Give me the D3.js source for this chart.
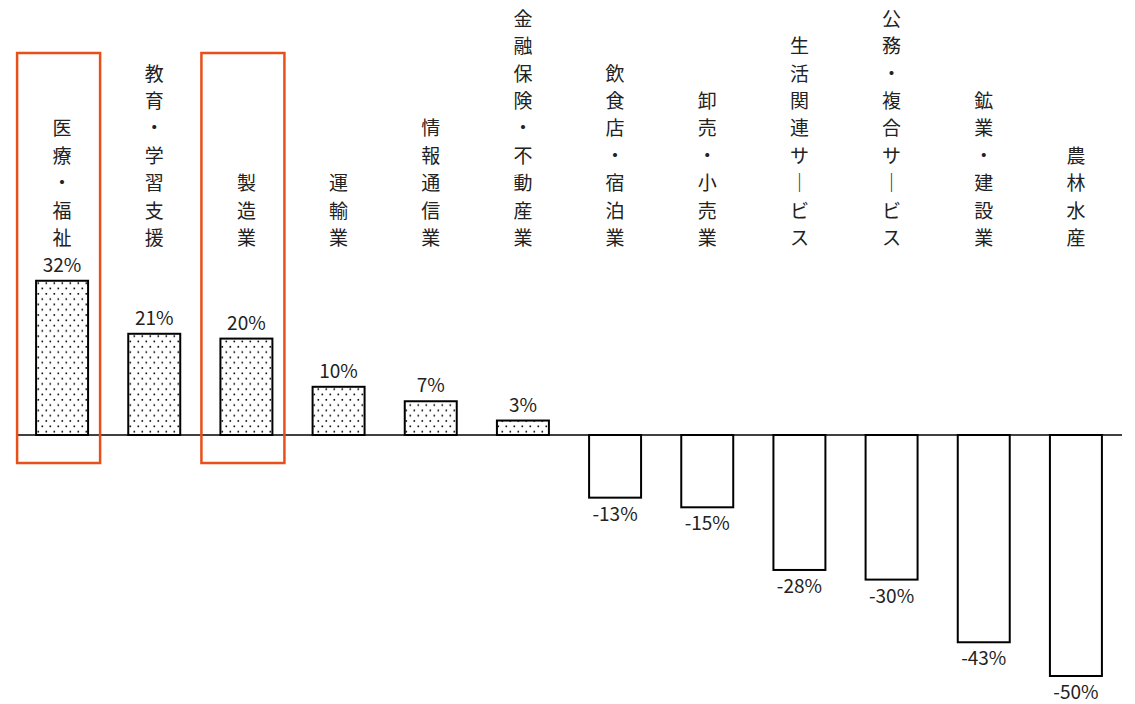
<!DOCTYPE html>
<html>
<head>
<meta charset="utf-8">
<script src="https://cdn.jsdelivr.net/npm/d3@7"></script>
<style>
  html, body { margin: 0; padding: 0; background: #fff; }
  svg { display: block; }
  text { font-family: "Noto Sans CJK JP", "Noto Sans", sans-serif; fill: #222; }
</style>
</head>
<body>
<svg id="chart" width="1135" height="704"></svg>
<script>
// Industries (vertical labels, one character per line)
const industries = [
  "医療・福祉", "教育・学習支援", "製造業", "運輸業", "情報通信業",
  "金融保険・不動産業", "飲食店・宿泊業", "卸売・小売業", "生活関連サービス",
  "公務・複合サービス", "鉱業・建設業", "農林水産"
];
// Change rate (%)
const changeRates = [32, 21, 20, 10, 7, 3, -13, -15, -28, -30, -43, -50];
// Highlighted industries
const highlighted = ["医療・福祉", "製造業"];

const svg = d3.select("#chart");

const x = d3.scaleBand()
  .domain(industries)
  .range([16, 1122])
  .paddingInner(0.436)
  .paddingOuter(0.218);

const y = d3.scaleLinear()
  .domain([0, 10])
  .range([435, 386.8]);

// Dotted fill for positive bars
const defs = svg.append("defs");
const pat = defs.append("pattern")
  .attr("id", "dots")
  .attr("patternUnits", "userSpaceOnUse")
  .attr("width", 8).attr("height", 10.6);
pat.append("rect").attr("width", 8).attr("height", 10.6).attr("fill", "#fff");
pat.append("rect").attr("x", 1.5).attr("y", 1.5).attr("width", 1.6).attr("height", 1.6).attr("fill", "#000");
pat.append("rect").attr("x", 5.5).attr("y", 6.8).attr("width", 1.6).attr("height", 1.6).attr("fill", "#000");

const data = industries.map((name, i) => ({ name, value: changeRates[i] }));

// Bars
svg.append("g").selectAll("rect")
  .data(data)
  .join("rect")
  .attr("x", d => x(d.name))
  .attr("width", x.bandwidth())
  .attr("y", d => Math.min(y(d.value), y(0)))
  .attr("height", d => Math.abs(y(d.value) - y(0)))
  .attr("fill", d => d.value > 0 ? "url(#dots)" : "#fff")
  .attr("stroke", "#000")
  .attr("stroke-width", 2);

// Zero line
svg.append("line")
  .attr("x1", x.range()[0]).attr("x2", x.range()[1])
  .attr("y1", y(0)).attr("y2", y(0))
  .attr("stroke", "#000")
  .attr("stroke-width", 1.5);

// Value labels
svg.append("g").selectAll("text")
  .data(data)
  .join("text")
  .attr("x", d => x(d.name) + x.bandwidth() / 2)
  .attr("y", d => d.value >= 0 ? y(d.value) - 9 : y(d.value) + 23)
  .attr("text-anchor", "middle")
  .attr("font-size", 19)
  .text(d => d.value + "%");

// Category labels, stacked vertically and bottom-aligned
const charStep = 27.4;
const lastCharY = 245;
const labels = svg.append("g").selectAll("g")
  .data(data)
  .join("g");
labels.each(function (d) {
  const chars = Array.from(d.name);
  const n = chars.length;
  d3.select(this).selectAll("text")
    .data(chars)
    .join("text")
    .attr("x", x(d.name) + x.bandwidth() / 2)
    .attr("y", (c, i) => lastCharY - (n - 1 - i) * charStep)
    .attr("text-anchor", "middle")
    .attr("font-size", 19)
    .text(c => c === "ー" ? "｜" : c);
});

// Highlight frames
svg.append("g").selectAll("rect")
  .data(highlighted)
  .join("rect")
  .attr("x", d => x(d) - 19)
  .attr("width", 83)
  .attr("y", 53)
  .attr("height", 410)
  .attr("fill", "none")
  .attr("stroke", "#E8501A")
  .attr("stroke-width", 2.5);
</script>
</body>
</html>
